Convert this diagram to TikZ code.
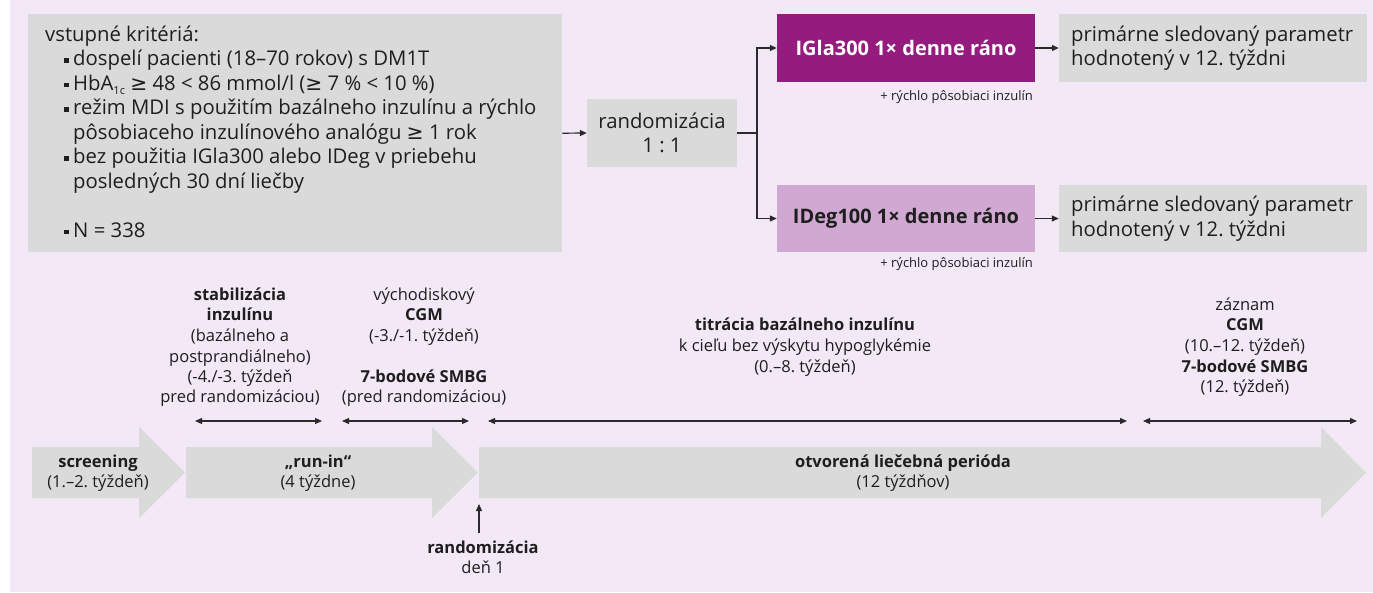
\documentclass[tikz,border=0pt]{standalone}
\usepackage{fontspec}
\setmainfont{Open Sans}
\newfontfamily\symfont{DejaVu Sans}
\newcommand\gesym{{\symfont ≥}}
\usetikzlibrary{arrows.meta}
\definecolor{bg}{HTML}{F3E8F5}
\definecolor{boxgray}{HTML}{DADADA}
\definecolor{mag}{HTML}{951B7E}
\definecolor{lilac}{HTML}{D1A8D1}
\definecolor{ink}{HTML}{1E1E1E}
\definecolor{linec}{HTML}{2A2A2A}
\newcommand\sqb{\rule[3pt]{4.5pt}{4.5pt}}
\frenchspacing
\tikzset{
  big/.style={font=\fontsize{20.3}{24.5}\selectfont, text=ink, inner sep=0pt},
  crit/.style={big, anchor=base west},
  lab/.style={font=\fontsize{16.5}{20.5}\selectfont, text=ink, inner sep=0pt, anchor=base},
  labb/.style={lab, font=\fontsize{16.5}{20.5}\selectfont\bfseries},
  note/.style={font=\fontsize{13}{15}\selectfont, text=ink, inner sep=0pt, anchor=base east},
  gbox/.style={fill=boxgray, draw=none, inner sep=0pt},
  tip/.tip={Triangle[length=7pt,width=6pt]},
  conn/.style={draw=linec, line width=1.2pt, -tip},
  plain/.style={draw=linec, line width=1.2pt},
  dbl/.style={draw=linec, line width=1.2pt, tip-tip},
  chev/.style={fill=boxgray, draw=none}
}
\begin{document}
\begin{tikzpicture}[x=1pt,y=-1pt]
\useasboundingbox (0,0) rectangle (1373,592);
\fill[white] (0,0) rectangle (1373,592);
\fill[bg] (10,0) rectangle (1373,592);

% criteria box
\node[gbox, minimum width=534, minimum height=238, anchor=north west] (critbox) at (28,14) {};
\node[crit] (c0) at (45,41) {vstupné kritériá:};
\node[crit] (c1) at (64,65.5) {\makebox[9pt][l]{\sqb}dospelí pacienti (18–70 rokov) s DM1T};
\node[crit] (c2) at (64,90) {\makebox[9pt][l]{\sqb}HbA{\fontsize{11}{11}\selectfont\raisebox{-4pt}{1c}} \gesym{} 48 < 86 mmol/l (\gesym{} 7 \% < 10 \%)};
\node[crit] (c3) at (64,114.5) {\makebox[9pt][l]{\sqb}režim MDI s použitím bazálneho inzulínu a rýchlo};
\node[crit] (c4) at (73,139) {pôsobiaceho inzulínového analógu \gesym{} 1 rok};
\node[crit] (c5) at (64,163.5) {\makebox[9pt][l]{\sqb}bez použitia IGla300 alebo IDeg v priebehu};
\node[crit] (c6) at (73,188) {posledných 30 dní liečby};
\node[crit] (c7) at (64,237) {\makebox[9pt][l]{\sqb}N = 338};

% randomization
\node[gbox, big, minimum width=150, minimum height=68, align=center] (rand) at (662,133) {randomizácia\\1 : 1};
\draw[conn] (critbox.east) -- (rand.west);
\coordinate (split) at (757,133);

\node[gbox, fill=mag, minimum width=258, minimum height=68, text=white, font=\fontsize{20}{24.5}\selectfont\bfseries] (igla) at (906,48) {IGla300 1× denne ráno};
\node[gbox, fill=lilac, minimum width=258, minimum height=67, text=ink, font=\fontsize{20}{24.5}\selectfont\bfseries] (ideg) at (906,218.5) {IDeg100 1× denne ráno};

\draw[plain] (rand.east) -- (split);
\draw[conn] (split) |- (igla.west);
\draw[conn] (split) |- (ideg.west);

\node[gbox, minimum width=308, minimum height=68] (p1) at (1213,48) {};
\node[gbox, minimum width=308, minimum height=67] (p2) at (1213,218.5) {};
\node[big, fill=none, anchor=west, align=left] (p1t) at (1071,48) {primárne sledovaný parametr\\hodnotený v 12. týždni};
\node[big, fill=none, anchor=west, align=left] (p2t) at (1071,218.5) {primárne sledovaný parametr\\hodnotený v 12. týždni};
\draw[conn] (igla.east) -- (p1.west);
\draw[conn] (ideg.east) -- (p2.west);

\node[note] (n1) at (1033,100) {+ rýchlo pôsobiaci inzulín};
\node[note] (n2) at (1033,267) {+ rýchlo pôsobiaci inzulín};

% timeline chevrons
\fill[chev] (32,447) -- (139,447) -- (139,427) -- (185,472.5) -- (139,518) -- (139,498) -- (32,498) -- cycle;
\fill[chev] (186,447) -- (432,447) -- (432,427) -- (478,472.5) -- (432,518) -- (432,498) -- (186,498) -- cycle;
\fill[chev] (479,447) -- (1321,447) -- (1321,427) -- (1366,472.5) -- (1321,518) -- (1321,498) -- (479,498) -- cycle;

\node[labb] (sc1) at (98,467.5) {screening};
\node[lab] (sc2) at (98,487.5) {(1.–2. týždeň)};
\node[labb] (ri1) at (318,467.5) {„run-in“};
\node[lab] (ri2) at (318,487.5) {(4 týždne)};
\node[labb] (ot1) at (903,467.5) {otvorená liečebná perióda};
\node[lab] (ot2) at (903,487.5) {(12 týždňov)};

% period labels
\node[labb] (s1) at (240,300.5) {stabilizácia};
\node[labb] (s2) at (240,320.5) {inzulínu};
\node[lab] (s3) at (240,341.5) {(bazálneho a};
\node[lab] (s4) at (240,362) {postprandiálneho)};
\node[lab] (s5) at (240,382.5) {(-4./-3. týždeň};
\node[lab] (s6) at (240,402.5) {pred randomizáciou)};

\node[lab] (v1) at (424,300.5) {východiskový};
\node[labb] (v2) at (424,320.5) {CGM};
\node[lab] (v3) at (424,341.5) {(-3./-1. týždeň)};
\node[labb] (v4) at (424,382.5) {7-bodové SMBG};
\node[lab] (v5) at (424,402.5) {(pred randomizáciou)};

\node[labb] (t1) at (805,330.5) {titrácia bazálneho inzulínu};
\node[lab] (t2) at (805,351) {k cieľu bez výskytu hypoglykémie};
\node[lab] (t3) at (805,372) {(0.–8. týždeň)};

\node[lab] (z1) at (1245,310.5) {záznam};
\node[labb] (z2) at (1245,330.5) {CGM};
\node[lab] (z3) at (1245,351) {(10.–12. týždeň)};
\node[labb] (z4) at (1245,372) {7-bodové SMBG};
\node[lab] (z5) at (1245,392.5) {(12. týždeň)};

% period arrows
\coordinate (a1l) at (195,421); \coordinate (a1r) at (322,421);
\coordinate (a2l) at (342,421); \coordinate (a2r) at (469,421);
\coordinate (a3l) at (488,421); \coordinate (a3r) at (1127,421);
\coordinate (a4l) at (1143,421); \coordinate (a4r) at (1357,421);
\draw[dbl] (a1l) -- (a1r);
\draw[dbl] (a2l) -- (a2r);
\draw[dbl] (a3l) -- (a3r);
\draw[dbl] (a4l) -- (a4r);

% randomization day
\node[labb] (r1) at (483,553.5) {randomizácia};
\node[lab] (r2) at (483,573.5) {deň 1};
\coordinate (ub) at (479,533);
\coordinate (ut) at (479,504);
\draw[conn] (ub) -- (ut);
\end{tikzpicture}
\end{document}
